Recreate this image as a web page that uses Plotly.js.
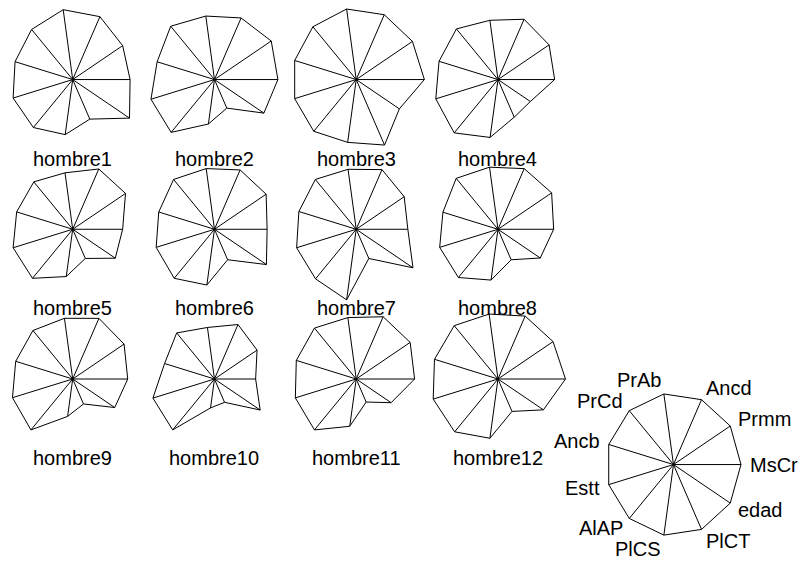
<!DOCTYPE html>
<html><head><meta charset="utf-8">
<script src="https://cdn.plot.ly/plotly-3.0.1.min.js"></script>
<style>html,body{margin:0;padding:0;background:#fff}</style>
</head><body><div id="chart" style="width:802px;height:565px"></div>
<script>
// variables (spokes, counter-clockwise starting at east)
const variables = ["MsCr","Prmm","Ancd","PrAb","PrCd","Ancb","Estt","AlAP","PlCS","PlCT","edad"];
const people = ["hombre1","hombre2","hombre3","hombre4","hombre5","hombre6",
                "hombre7","hombre8","hombre9","hombre10","hombre11","hombre12"];
// scaled values (0..1) per man, in the order of `variables`
const hombre1  = [0.85,0.88,0.97,0.99,0.93,0.89,0.92,0.89,0.78,0.61,1.00];
const hombre2  = [0.94,1.00,0.95,0.90,0.99,0.885,0.98,0.98,0.63,0.44,0.87];
const hombre3  = [1.01,0.99,1.00,1.00,0.98,0.95,0.95,0.96,0.89,1.01,0.76];
const hombre4  = [0.84,0.90,0.93,0.84,0.94,0.91,0.96,0.99,0.82,0.58,0.57];
const hombre5  = [0.74,0.93,0.93,0.80,0.88,0.865,0.92,0.91,0.67,0.45,0.75];
const hombre6  = [0.78,0.91,0.915,0.86,0.925,0.86,0.90,0.91,0.79,0.47,0.915];
const hombre7  = [0.765,0.845,0.92,0.85,0.925,0.885,0.92,0.92,1.00,0.45,1.00];
const hombre8  = [0.825,0.945,0.935,0.88,0.945,0.85,0.90,0.895,0.72,0.47,0.745];
const hombre9  = [0.815,0.905,0.935,0.86,0.90,0.88,0.93,0.945,0.53,0.385,0.74];
const hombre10 = [0.61,0.75,0.84,0.73,0.855,0.77,0.95,0.945,0.41,0.36,0.805];
const hombre11 = [0.865,0.95,0.96,0.87,0.945,0.925,0.94,0.945,0.67,0.355,0.615];
const hombre12 = [1.00,0.97,0.97,0.92,0.99,0.98,1.00,0.98,0.84,0.50,0.80];
const series = [hombre1,hombre2,hombre3,hombre4,hombre5,hombre6,
                hombre7,hombre8,hombre9,hombre10,hombre11,hombre12];
const keyValues = variables.map(() => 1);

// layout constants (R stars() style user coordinates)
const STEP = 2.1, NCOL = 4, NROW = 3;
const KEY_LOC = [11, 0.9];
const LABEL_OFF = 1.11;
const FONT = {family: "Liberation Sans, Arial, Helvetica, sans-serif", size: 20, color: "#000"};

const nv = variables.length;
const angles = variables.map((_, k) => 2 * Math.PI * k / nv);

function starTraces(vals, cx, cy) {
  const ox = [], oy = [], sx = [], sy = [];
  vals.forEach((v, k) => {
    const x = cx + v * Math.cos(angles[k]);
    const y = cy + v * Math.sin(angles[k]);
    ox.push(x); oy.push(y);
    sx.push(cx, x, null); sy.push(cy, y, null);
  });
  ox.push(ox[0]); oy.push(oy[0]);
  const line = {color: "#000", width: 1};
  return [
    {type: "scatter", mode: "lines", x: ox, y: oy, line: line, hoverinfo: "skip"},
    {type: "scatter", mode: "lines", x: sx, y: sy, line: line, hoverinfo: "skip"}
  ];
}

const traces = [];
const annotations = [];
series.forEach((vals, i) => {
  const col = i % NCOL, row = Math.floor(i / NCOL);
  const cx = STEP * (col + 1), cy = STEP * (NROW - row);
  traces.push(...starTraces(vals, cx, cy));
  annotations.push({x: cx, y: cy - LABEL_OFF, xref: "x", yref: "y", text: people[i],
    showarrow: false, xanchor: "center", yanchor: "middle", font: FONT});
});
traces.push(...starTraces(keyValues, KEY_LOC[0], KEY_LOC[1]));

// key labels, R-like adjustment
const TXT_H = 15;
variables.forEach((name, k) => {
  const a = angles[k], deg = a * 180 / Math.PI;
  let h = deg < 90 ? 0 : (deg > 270 ? 0 : (deg > 90 ? 1 : 0.5));
  let v;
  if (deg <= 90) v = (1 - deg / 90) / 2;
  else if (deg <= 270) v = (deg - 90) / 180;
  else v = 1 - (deg - 270) / 180;
  annotations.push({
    x: KEY_LOC[0] + 1.1 * Math.cos(a), y: KEY_LOC[1] + 1.1 * Math.sin(a),
    xref: "x", yref: "y", text: name, showarrow: false,
    xanchor: h === 0 ? "left" : (h === 1 ? "right" : "center"),
    yanchor: "middle", yshift: (0.5 - v) * TXT_H, font: FONT
  });
});

const layout = {
  width: 802, height: 565, autosize: false,
  margin: {l: 0, r: 0, t: 0, b: 0, pad: 0},
  paper_bgcolor: "#fff", plot_bgcolor: "#fff",
  showlegend: false, hovermode: false,
  xaxis: {range: [1.023, 12.904], visible: false, fixedrange: true},
  yaxis: {range: [-0.509, 7.416], visible: false, fixedrange: true},
  annotations: annotations
};
Plotly.newPlot("chart", traces, layout, {displayModeBar: false, staticPlot: true});
</script></body></html>
